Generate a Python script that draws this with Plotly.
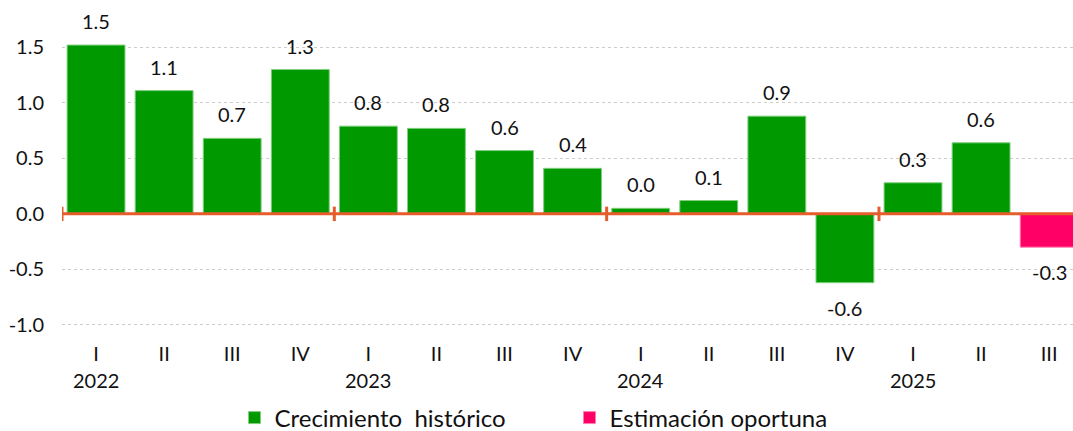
import plotly.graph_objects as go

quarters = ["I", "II", "III", "IV", "I", "II", "III", "IV", "I", "II", "III", "IV", "I", "II", "III"]
years = ["2022", "2023", "2024", "2025"]
year_start_idx = [0, 4, 8, 12]
values = [1.52, 1.11, 0.68, 1.30, 0.79, 0.77, 0.57, 0.41, 0.05, 0.12, 0.88, -0.62, 0.28, 0.64, -0.30]
labels = ["1.5", "1.1", "0.7", "1.3", "0.8", "0.8", "0.6", "0.4", "0.0", "0.1", "0.9", "-0.6", "0.3", "0.6", "-0.3"]
n_hist = 14  # first 14 are historical, last is the timely estimate
group_bounds = [-0.5, 3.5, 7.5, 11.5]

GREEN = "#009900"
PINK = "#FF0066"
ORANGE = "#E65C2A"
FONT = "Lato"
TXT = "#111111"

x_idx = list(range(len(values)))

fig = go.Figure()
fig.add_trace(go.Bar(
    x=x_idx[:n_hist], y=values[:n_hist], name="Crecimiento  histórico",
    marker=dict(color=GREEN, line=dict(color="#7fcf7f", width=1)), width=0.85,
))
fig.add_trace(go.Bar(
    x=x_idx[n_hist:], y=values[n_hist:], name="Estimación oportuna",
    marker=dict(color=PINK, line=dict(color="#ff7fb2", width=1)), width=0.85,
))

# data labels
for xi, v, lab in zip(x_idx, values, labels):
    fig.add_annotation(
        x=xi, y=v, text=lab, showarrow=False,
        yanchor="middle", yshift=(24 if v >= 0 else -25),
        font=dict(family=FONT, size=20, color=TXT),
    )

# year labels below first quarter of each group
for yr, i in zip(years, year_start_idx):
    fig.add_annotation(
        x=i, y=0, xref="x", yref="paper", text=yr, showarrow=False,
        yanchor="middle", yshift=-44,
        font=dict(family=FONT, size=20, color=TXT),
    )

# zero line
fig.add_shape(type="line", xref="paper", x0=0, x1=1, yref="y", y0=0, y1=0,
              line=dict(color=ORANGE, width=3), layer="above")
# group divider ticks on the zero line
for b in group_bounds:
    fig.add_shape(type="line", xref="x", x0=b, x1=b, yref="y", y0=-0.065, y1=0.065,
                  line=dict(color=ORANGE, width=3), layer="above")

PLOT_H = 322
fig.update_layout(
    width=1073, height=431,
    margin=dict(l=62, r=0, t=14, b=95, autoexpand=False),
    plot_bgcolor="white", paper_bgcolor="white",
    barmode="overlay",
    showlegend=True,
    legend=dict(orientation="h", x=0.502, xanchor="center", y=-(418 - 336) / PLOT_H, yanchor="middle",
                font=dict(family=FONT, size=24, color=TXT), traceorder="normal",
                itemwidth=30, entrywidth=290, tracegroupgap=0),
    font=dict(family=FONT, color=TXT),
)
fig.update_xaxes(
    range=[-0.5, 14.35], tickmode="array", tickvals=x_idx, ticktext=quarters,
    showgrid=False, zeroline=False, showline=False, ticks="",
    tickfont=dict(family=FONT, size=20, color=TXT), ticklabelstandoff=4,
)
fig.update_yaxes(
    range=[-1.1, 1.8], tickmode="array", tickvals=[-1.0, -0.5, 0.0, 0.5, 1.0, 1.5],
    ticktext=["-1.0", "-0.5", "0.0", "0.5", "1.0", "1.5"],
    showgrid=True, gridcolor="#cccccc", griddash="dot", gridwidth=1,
    zeroline=False, showline=False, ticks="",
    tickfont=dict(family=FONT, size=20, color=TXT), ticklabelstandoff=17,
)

fig.write_html(
    "out.html",
    config={"displayModeBar": False},
    post_script="document.body.style.margin='0';document.body.style.overflow='hidden';",
)
